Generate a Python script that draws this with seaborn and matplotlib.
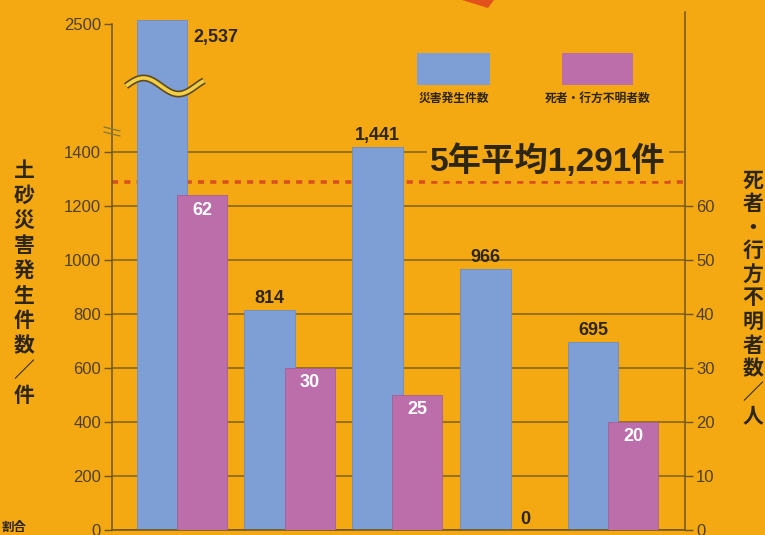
import numpy as np
import pandas as pd
import matplotlib
matplotlib.use("Agg")
import matplotlib.pyplot as plt
import seaborn as sns
from matplotlib.lines import Line2D
from matplotlib.patches import Rectangle, Polygon
from matplotlib.ticker import FixedLocator, FixedFormatter
import matplotlib.transforms as mtransforms

# ---------------- data ----------------
years = ["2004", "2005", "2006", "2007", "2008"]
cases = [2537, 814, 1441, 966, 695]          # 土砂災害発生件数
deaths = [62, 30, 25, 0, 20]                 # 死者・行方不明者数
left_ticks = [0, 200, 400, 600, 800, 1000, 1200, 1400]
left_break_tick = [2500]
right_ticks = [0, 10, 20, 30, 40, 50, 60]
legend_labels = ["災害発生件数", "死者・行方不明者数"]
ylabel_left = "土砂災害発生件数／件"
ylabel_right = "死者・行方不明者数／人"

# ---------------- style ----------------
BG = "#F4A912"
BLUE = "#7E9FD6"
PINK = "#BB6EAA"
DARK = "#2E2614"
TICKC = "#4E4022"
GRIDC = "#80600F"
SPINEC = "#6B5520"
RED = "#D9501F"
CJK = ["Noto Sans CJK JP", "DejaVu Sans"]
NUM = ["Liberation Sans", "Noto Sans CJK JP", "DejaVu Sans"]

sns.set_theme(style="white")
plt.rcParams["font.family"] = NUM

W_PX, H_PX = 765, 535
fig = plt.figure(figsize=(7.65, 5.35), dpi=100, facecolor=BG)

# broken axis as a piecewise-linear scale
BREAK = 1400.0
K = 0.431


def fwd(y):
    y = np.asarray(y, dtype=float)
    return np.where(y <= BREAK, y, BREAK + (y - BREAK) * K)


def inv(t):
    t = np.asarray(t, dtype=float)
    return np.where(t <= BREAK, t, BREAK + (t - BREAK) / K)


rect = [112 / W_PX, 5 / H_PX, 573 / W_PX, 518 / H_PX]
YTOP = 2603
XLIM = (-0.464, 4.854)
PINK_SHIFT = 0.371

ax = fig.add_axes(rect)
ax.set_facecolor(BG)
df_c = pd.DataFrame({"year": years, "cases": cases})
sns.barplot(data=df_c, x="year", y="cases", color=BLUE, saturation=1,
            width=0.473, ax=ax, zorder=2, edgecolor="#6E8CC0", linewidth=0.6)
ax.set_yscale("function", functions=(fwd, inv))
ax.set_ylim(0, YTOP)
ax.set_xlim(*XLIM)
ax.set_axisbelow(True)
ax.yaxis.set_major_locator(FixedLocator(left_ticks))
ax.yaxis.set_major_formatter(FixedFormatter([str(t) for t in left_ticks]))
ax.yaxis.set_minor_locator(FixedLocator(left_break_tick))
ax.yaxis.set_minor_formatter(FixedFormatter([str(t) for t in left_break_tick]))
ax.yaxis.grid(True, which="major", color=GRIDC, lw=1.1)
ax.yaxis.grid(False, which="minor")
ax.tick_params(axis="y", which="both", left=True, length=6, width=1,
               color=SPINEC, labelsize=12, labelcolor=TICKC, pad=2)
ax.tick_params(axis="x", bottom=False, labelbottom=False)
ax.set_xlabel("")
ax.set_ylabel("")
for s in ["top", "right"]:
    ax.spines[s].set_visible(False)
for s in ["left", "bottom"]:
    ax.spines[s].set_color(SPINEC)
    ax.spines[s].set_linewidth(1.1)
ax.spines["left"].set_bounds(0, 2500)

# five-year average
avg = float(np.mean(cases))
ax.axhline(avg, color=RED, lw=2.6, ls=(0, (1.7, 1.7)), zorder=1.5)
ax.annotate(f"5年平均{avg:,.0f}件", xy=(0.761, avg),
            xycoords=mtransforms.blended_transform_factory(ax.transAxes, ax.transData),
            xytext=(0, 4), textcoords="offset pixels", ha="center", va="bottom",
            fontsize=24, fontweight="bold", color=DARK, family=NUM, zorder=5,
            bbox=dict(boxstyle="square,pad=0.1", fc=BG, ec="none"))

# value labels for cases
bw = 0.473
for i, v in enumerate(cases):
    if v > 2500:
        ax.annotate(f"{v:,}", xy=(i + bw / 2, v), xytext=(6, -18),
                    textcoords="offset pixels", ha="left", va="center",
                    fontsize=13, fontweight="bold", color=DARK, zorder=6)
    else:
        ax.annotate(f"{v:,}", xy=(i, v), xytext=(0, 3),
                    textcoords="offset pixels", ha="center", va="bottom",
                    fontsize=13, fontweight="bold", color=DARK, zorder=6)

# ---------------- deaths on overlay axis ----------------
ax2 = fig.add_axes(rect)
ax2.patch.set_visible(False)
df_d = pd.DataFrame({"year": years, "deaths": deaths})
sns.barplot(data=df_d, x="year", y="deaths", color=PINK, saturation=1,
            width=0.464, ax=ax2, zorder=3, edgecolor="#A45E95", linewidth=0.6)
ax2.set_xlim(XLIM[0] - PINK_SHIFT, XLIM[1] - PINK_SHIFT)
ax2.set_ylim(0, float(fwd(YTOP)) / 20.0)
ax2.yaxis.tick_right()
ax2.set_yticks(right_ticks)
ax2.set_yticklabels([str(t) for t in right_ticks])
ax2.tick_params(axis="y", right=True, left=False, length=6, width=1,
                color=SPINEC, labelsize=12, labelcolor=TICKC, pad=2)
ax2.tick_params(axis="x", bottom=False, labelbottom=False)
ax2.set_xlabel("")
ax2.set_ylabel("")
for s in ["top", "left", "bottom"]:
    ax2.spines[s].set_visible(False)
ax2.spines["right"].set_color(SPINEC)
ax2.spines["right"].set_linewidth(1.1)
ax2.grid(False)

for i, v in enumerate(deaths):
    if v > 0:
        ax2.annotate(str(v), xy=(i, v), xytext=(0, -15), textcoords="offset pixels",
                     ha="center", va="center", fontsize=13, fontweight="bold",
                     color="white", zorder=6)
    else:
        ax2.annotate(str(v), xy=(i, v), xytext=(0, 10), textcoords="offset pixels",
                     ha="center", va="center", fontsize=13, fontweight="bold",
                     color=DARK, zorder=6)


def fx(px):
    return np.asarray(px, dtype=float) / W_PX


def fy(py):
    return 1 - np.asarray(py, dtype=float) / H_PX


# wavy break mark across the first bar
xs = np.linspace(126, 204, 80)
ys = 86 - 8 * np.sin(2 * np.pi * (xs - 126) / 70)
fig.add_artist(Line2D(fx(xs), fy(ys), color="#5E4A1C", lw=5.0, zorder=10,
                      solid_capstyle="butt"))
fig.add_artist(Line2D(fx(xs), fy(ys), color="#F3CF45", lw=2.6, zorder=11,
                      solid_capstyle="butt"))
# small break mark on the left axis
for dy in (0, 5):
    fig.add_artist(Line2D(fx([104, 120]), fy([127 + dy, 131 + dy]),
                          color="#8A7A35", lw=1.0, zorder=10))

# legend
for (x0, x1), col, lab in zip([(417, 490), (562, 633)], [BLUE, PINK], legend_labels):
    fig.add_artist(Rectangle((fx(x0), fy(85)), fx(x1) - fx(x0), fy(53) - fy(85),
                             transform=fig.transFigure, fc=col, ec="none", zorder=10))
    fig.text(fx((x0 + x1) / 2), fy(98), lab, ha="center", va="center",
             fontsize=8.5, fontweight="bold", color=DARK, family=CJK)

# axis titles, stacked vertically
fig.text(fx(24), fy(283), "\n".join(ylabel_left), ha="center", va="center",
         fontsize=15, fontweight="bold", color=DARK, family=CJK, linespacing=1.24)
fig.text(fx(753), fy(298), "\n".join(ylabel_right), ha="center", va="center",
         fontsize=15, fontweight="bold", color=DARK, family=CJK, linespacing=1.15)

# cut-off fragments at the edges
fig.text(fx(2), fy(527), "割合", ha="left", va="center", fontsize=9,
         fontweight="bold", color=DARK, family=CJK)
fig.add_artist(Polygon([(fx(462), fy(0)), (fx(494), fy(0)), (fx(488), fy(8))],
                       closed=True, transform=fig.transFigure, fc="#E3521C",
                       ec="none", zorder=10))

fig.savefig("out.png", dpi=100, facecolor=BG)
